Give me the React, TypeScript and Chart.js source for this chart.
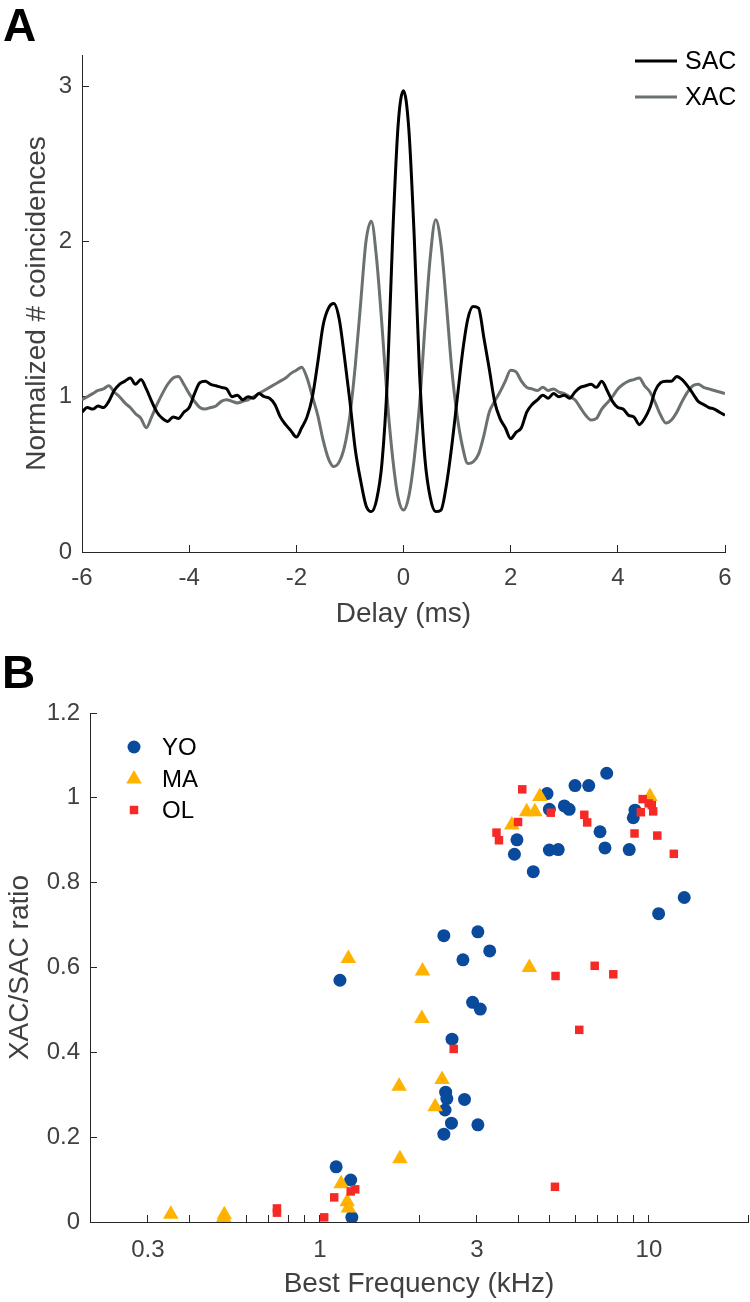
import React, { useEffect, useRef } from "react";
import { Chart, registerables } from "chart.js";

Chart.register(...registerables);

const FONT = "'Liberation Sans', Arial, Helvetica, sans-serif";
const TICK_COLOR = "#404040";
const AXIS_COLOR = "#262626";

// ---------- Panel A data ----------
const DELAY_START = -6;
const DELAY_STEP = 0.1;
const SAC = [
  0.9, 0.93, 0.92, 0.94, 0.93, 0.97, 1.04, 1.08, 1.1, 1.12,
  1.08, 1.11, 1.05, 0.97, 0.9, 0.86, 0.84, 0.87, 0.86, 0.9,
  0.93, 1.02, 1.09, 1.1, 1.08, 1.07, 1.06, 1.05, 1.0, 1.01,
  0.98, 1.0, 0.99, 1.02, 1.0, 0.99, 0.95, 0.87, 0.82, 0.78,
  0.74, 0.8, 0.87, 1.0, 1.22, 1.46, 1.57, 1.6, 1.5, 1.25,
  0.97, 0.66, 0.46, 0.3, 0.26, 0.34, 0.58, 1.12, 2.05, 2.75,
  2.97,
  2.72, 2.03, 1.15, 0.6, 0.35, 0.26, 0.27, 0.43, 0.68, 0.98,
  1.28, 1.5, 1.58, 1.57, 1.38, 1.18, 0.97, 0.86, 0.8, 0.73,
  0.77, 0.8, 0.9, 0.95, 0.98, 1.01, 0.99, 1.02, 1.0, 1.01,
  0.99, 1.03, 1.06, 1.07, 1.08, 1.06, 1.1, 1.04, 0.97, 0.93,
  0.92, 0.88, 0.87, 0.82, 0.86, 0.93, 1.04, 1.09, 1.1, 1.1,
  1.13, 1.11, 1.07, 1.02, 0.97, 0.95, 0.93, 0.92, 0.9, 0.88,
];
const XAC = [
  0.98, 1.0, 1.02, 1.04, 1.05, 1.07, 1.03, 1.0, 0.96, 0.93,
  0.89, 0.86, 0.8, 0.87, 0.95, 1.02, 1.08, 1.12, 1.13, 1.08,
  1.02, 0.97, 0.93, 0.92, 0.93, 0.94, 0.97, 0.98, 0.97, 0.96,
  0.97, 0.98, 1.0, 1.02, 1.04, 1.06, 1.08, 1.1, 1.12, 1.15,
  1.17, 1.19, 1.12, 1.0, 0.88, 0.72, 0.6, 0.55, 0.58, 0.68,
  0.88, 1.2, 1.6, 2.0, 2.13, 1.88, 1.45, 0.97, 0.6, 0.35,
  0.27,
  0.36, 0.6, 0.95, 1.45, 1.9, 2.14, 1.98, 1.6, 1.18, 0.88,
  0.68, 0.57, 0.58, 0.63, 0.75, 0.9, 0.97, 1.03, 1.1, 1.17,
  1.16, 1.1, 1.06, 1.05, 1.04, 1.06, 1.04, 1.05, 1.03, 1.02,
  1.0, 0.98, 0.93, 0.88, 0.85, 0.86, 0.92, 0.96, 1.0, 1.05,
  1.08, 1.1, 1.11, 1.12, 1.07, 1.03, 0.96, 0.88, 0.83, 0.85,
  0.9, 0.97, 1.03, 1.07, 1.08, 1.06, 1.05, 1.04, 1.03, 1.02,
];
const DELAY_TICKS = [-6, -4, -2, 0, 2, 4, 6];
const COINC_TICKS = [0, 1, 2, 3];
const SERIES_A = ["SAC", "XAC"];
const COLORS_A = ["#000000", "#6b7171"];

// ---------- Panel B data ----------
const YO_FREQ = [4.9, 4.98, 5.53, 5.72, 5.96, 6.56, 7.44, 3.97, 3.9, 4.45, 4.98, 5.3, 7.1, 7.35, 8.71, 9.07, 8.96, 12.8, 10.7, 2.38, 3.02, 3.28, 2.72, 1.15, 2.91, 3.07, 2.52, 2.41, 2.43, 2.75, 2.4, 2.51, 3.02, 2.38, 1.12, 1.24, 1.25];
const YO_RATIO = [1.01, 0.973, 0.981, 0.973, 1.029, 1.029, 1.058, 0.901, 0.867, 0.826, 0.877, 0.878, 0.92, 0.882, 0.878, 0.971, 0.953, 0.765, 0.727, 0.675, 0.684, 0.639, 0.618, 0.57, 0.518, 0.502, 0.431, 0.306, 0.291, 0.289, 0.264, 0.233, 0.229, 0.207, 0.13, 0.099, 0.011];
const MA_FREQ = [4.66, 4.25, 4.5, 3.83, 10.07, 4.33, 2.05, 1.22, 2.04, 1.74, 2.35, 2.24, 1.75, 0.352, 0.512, 0.51, 1.16, 1.21, 1.22];
const MA_RATIO = [1.003, 0.967, 0.967, 0.936, 1.003, 0.6, 0.592, 0.621, 0.48, 0.32, 0.336, 0.272, 0.149, 0.018, 0.017, 0.01, 0.09, 0.048, 0.033];
const OL_FREQ = [2.55, 6.14, 5.18, 4.12, 4.0, 5.03, 3.44, 3.5, 6.36, 6.49, 9.57, 9.98, 10.2, 10.3, 9.45, 9.04, 10.6, 11.9, 5.2, 6.84, 7.79, 0.74, 0.74, 1.03, 1.105, 1.24, 1.28];
const OL_RATIO = [0.408, 0.453, 0.083, 1.02, 0.943, 0.965, 0.918, 0.9, 0.96, 0.942, 0.997, 0.987, 0.983, 0.968, 0.966, 0.916, 0.911, 0.868, 0.58, 0.604, 0.584, 0.032, 0.022, 0.011, 0.058, 0.072, 0.077];
const FREQ_TICKS = [0.2, 0.3, 0.4, 0.5, 0.6, 0.7, 0.8, 0.9, 1, 2, 3, 4, 5, 6, 7, 8, 9, 10, 20];
const FREQ_LABELS = [0.3, 1, 3, 10];
const RATIO_TICKS = [0, 0.2, 0.4, 0.6, 0.8, 1, 1.2];
const GROUPS_B = ["YO", "MA", "OL"];
const COLORS_B = ["#0a4a9c", "#ffb300", "#f52a26"];

const tickGrid = {
  display: true,
  drawOnChartArea: false,
  drawTicks: true,
  tickLength: -7,
  color: AXIS_COLOR,
  lineWidth: 1,
};
const border = { display: true, color: AXIS_COLOR, width: 1 };

const panelAPlugin: any = {
  id: "panelA",
  afterDraw(chart: any) {
    const ctx = chart.ctx;
    ctx.save();
    ctx.fillStyle = "#000";
    ctx.font = `bold 46px ${FONT}`;
    ctx.textAlign = "left";
    ctx.textBaseline = "alphabetic";
    ctx.fillText("A", 3, 41);
    ctx.font = `25px ${FONT}`;
    ctx.textBaseline = "middle";
    SERIES_A.forEach((name, i) => {
      const y = 61 + i * 36;
      ctx.strokeStyle = COLORS_A[i];
      ctx.lineWidth = 3;
      ctx.beginPath();
      ctx.moveTo(635, y);
      ctx.lineTo(677, y);
      ctx.stroke();
      ctx.fillStyle = "#000";
      ctx.fillText(name, 685, y + 1);
    });
    ctx.restore();
  },
};

function drawMarker(ctx: CanvasRenderingContext2D, style: string, x: number, y: number, r: number) {
  ctx.beginPath();
  if (style === "circle") {
    ctx.arc(x, y, r, 0, Math.PI * 2);
  } else if (style === "triangle") {
    ctx.moveTo(x, y - r);
    ctx.lineTo(x + r * Math.sin((2 * Math.PI) / 3), y - r * Math.cos((2 * Math.PI) / 3));
    ctx.lineTo(x - r * Math.sin((2 * Math.PI) / 3), y - r * Math.cos((2 * Math.PI) / 3));
    ctx.closePath();
  } else {
    const s = Math.SQRT1_2 * r;
    ctx.rect(x - s, y - s, 2 * s, 2 * s);
  }
  ctx.fill();
}

const STYLES_B = ["circle", "triangle", "rect"];
const RADII_B = [6.5, 9, 6];

const panelBPlugin: any = {
  id: "panelB",
  afterDraw(chart: any) {
    const ctx = chart.ctx;
    ctx.save();
    ctx.fillStyle = "#000";
    ctx.font = `bold 46px ${FONT}`;
    ctx.textAlign = "left";
    ctx.textBaseline = "alphabetic";
    ctx.fillText("B", 2, 48);
    ctx.font = `24px ${FONT}`;
    ctx.textBaseline = "middle";
    const rows = [107, 139, 170];
    GROUPS_B.forEach((name, i) => {
      ctx.fillStyle = COLORS_B[i];
      drawMarker(ctx, STYLES_B[i], 134, rows[i], RADII_B[i]);
      ctx.fillStyle = "#000";
      ctx.fillText(name, 162, rows[i] + 1);
    });
    ctx.restore();
  },
};

const fixHeight = (h: number) => (s: any) => {
  s.height = h;
  s.paddingLeft = 0;
  s.paddingRight = 0;
  s.paddingTop = 0;
  s.paddingBottom = 0;
};
const fixWidth = (w: number) => (s: any) => {
  s.width = w;
  s.paddingLeft = 0;
  s.paddingRight = 0;
  s.paddingTop = 0;
  s.paddingBottom = 0;
};

// Canvas B is a little wider than the page: Chart.js keeps a margin equal to half
// the largest marker on the right, so the extra width lands the axis end at x = 748.
const CANVAS_B_WIDTH = 757;

export default function App() {
  const refA = useRef<HTMLCanvasElement | null>(null);
  const refB = useRef<HTMLCanvasElement | null>(null);

  useEffect(() => {
    const delayAt = (i: number) => Math.round((DELAY_START + i * DELAY_STEP) * 10) / 10;
    const seriesA = [SAC, XAC];
    const chartA = new Chart(refA.current as HTMLCanvasElement, {
      type: "line",
      data: {
        datasets: SERIES_A.map((name, k) => ({
          label: name,
          data: seriesA[k].map((v, i) => ({ x: delayAt(i), y: v })),
          borderColor: COLORS_A[k],
          backgroundColor: COLORS_A[k],
          borderWidth: 3,
          pointRadius: 0,
          cubicInterpolationMode: "monotone",
          order: k,
        })),
      },
      options: {
        responsive: false,
        animation: false,
        events: [],
        layout: { padding: { left: 0, right: 25, top: 55, bottom: 8 } },
        plugins: { legend: { display: false }, tooltip: { enabled: false } },
        scales: {
          x: {
            type: "linear",
            min: -6,
            max: 6,
            afterBuildTicks: (s: any) => {
              s.ticks = DELAY_TICKS.map((v) => ({ value: v }));
            },
            afterFit: fixHeight(80),
            ticks: {
              autoSkip: false,
              maxRotation: 0,
              padding: 19,
              color: TICK_COLOR,
              font: { family: FONT, size: 24 },
              callback: (v: any) => String(v),
            },
            grid: tickGrid,
            border,
            title: {
              display: true,
              text: "Delay (ms)",
              color: TICK_COLOR,
              font: { family: FONT, size: 28 },
              padding: { top: 0, bottom: 1 },
            },
          },
          y: {
            type: "linear",
            min: 0,
            max: 3.2,
            afterBuildTicks: (s: any) => {
              s.ticks = COINC_TICKS.map((v) => ({ value: v }));
            },
            afterFit: fixWidth(82),
            ticks: {
              autoSkip: false,
              padding: 17,
              color: TICK_COLOR,
              font: { family: FONT, size: 24 },
              callback: (v: any) => String(v),
            },
            grid: tickGrid,
            border,
            title: {
              display: true,
              text: "Normalized # coincidences",
              color: TICK_COLOR,
              font: { family: FONT, size: 28 },
              padding: { top: 20, bottom: 0 },
            },
          },
        },
      } as any,
      plugins: [panelAPlugin],
    });

    const freqs = [YO_FREQ, MA_FREQ, OL_FREQ];
    const ratios = [YO_RATIO, MA_RATIO, OL_RATIO];
    const chartB = new Chart(refB.current as HTMLCanvasElement, {
      type: "scatter",
      data: {
        datasets: GROUPS_B.map((name, k) => ({
          label: name,
          data: freqs[k].map((f, i) => ({ x: f, y: ratios[k][i] })),
          pointStyle: STYLES_B[k],
          pointRadius: RADII_B[k],
          pointHoverRadius: RADII_B[k],
          pointBorderWidth: 0,
          borderWidth: 0,
          backgroundColor: COLORS_B[k],
          borderColor: COLORS_B[k],
          showLine: false,
          order: 2 - k,
        })),
      },
      options: {
        responsive: false,
        animation: false,
        events: [],
        layout: { padding: { left: 0, right: 0, top: 73, bottom: 0 } },
        plugins: { legend: { display: false }, tooltip: { enabled: false } },
        scales: {
          x: {
            type: "logarithmic",
            min: 0.2,
            max: 20,
            afterBuildTicks: (s: any) => {
              s.ticks = FREQ_TICKS.map((v) => ({ value: v }));
            },
            afterFit: fixHeight(80),
            ticks: {
              autoSkip: false,
              maxRotation: 0,
              padding: 21,
              color: TICK_COLOR,
              font: { family: FONT, size: 24 },
              callback: (v: any) => (FREQ_LABELS.includes(Number(v)) ? String(v) : ""),
            },
            grid: tickGrid,
            border,
            title: {
              display: true,
              text: "Best Frequency (kHz)",
              color: TICK_COLOR,
              font: { family: FONT, size: 28 },
              padding: { top: 0, bottom: 1 },
            },
          },
          y: {
            type: "linear",
            min: 0,
            max: 1.2,
            afterBuildTicks: (s: any) => {
              s.ticks = RATIO_TICKS.map((v) => ({ value: v }));
            },
            afterFit: fixWidth(90),
            ticks: {
              autoSkip: false,
              padding: 17,
              color: TICK_COLOR,
              font: { family: FONT, size: 24 },
              callback: (v: any) => String(v),
            },
            grid: tickGrid,
            border,
            title: {
              display: true,
              text: "XAC/SAC ratio",
              color: TICK_COLOR,
              font: { family: FONT, size: 28 },
              padding: { top: 3, bottom: 0 },
            },
          },
        },
      } as any,
      plugins: [panelBPlugin],
    });

    return () => {
      chartA.destroy();
      chartB.destroy();
    };
  }, []);

  return (
    <div style={{ position: "absolute", left: 0, top: 0, width: 750, height: 1302, background: "#fff", overflow: "hidden" }}>
      <canvas
        ref={refA}
        width={750}
        height={640}
        style={{ position: "absolute", left: 0, top: 0, width: 750, height: 640, display: "block" }}
      />
      <canvas
        ref={refB}
        width={CANVAS_B_WIDTH}
        height={662}
        style={{ position: "absolute", left: 0, top: 640, width: CANVAS_B_WIDTH, height: 662, display: "block" }}
      />
    </div>
  );
}
